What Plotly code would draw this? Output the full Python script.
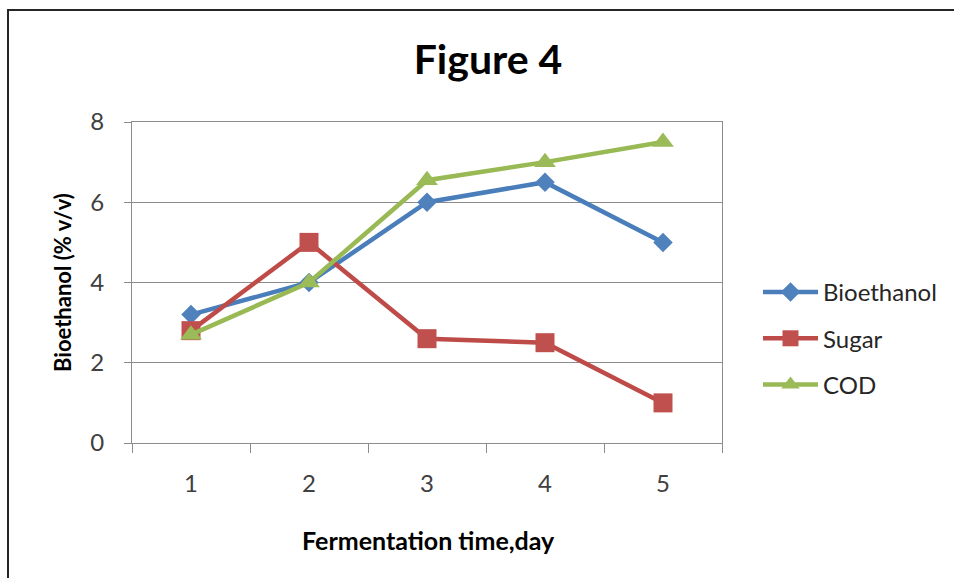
import plotly.graph_objects as go

days = ["1", "2", "3", "4", "5"]
bioethanol = [3.2, 4.0, 6.0, 6.5, 5.0]
sugar = [2.8, 5.0, 2.6, 2.5, 1.0]
cod = [2.7, 4.0, 6.55, 7.0, 7.5]

W, H = 954, 578
L, R, T, B = 132, 232, 122, 135
PW, PH = W - L - R, H - T - B

FONT = "Lato, 'Open Sans', sans-serif"

def px_x(p):
    return (p - L) / PW

def px_y(p):
    return (H - B - p) / PH

fig = go.Figure()
series = [
    ("Bioethanol", bioethanol, "#4A7EBB", "#4F81BD", "diamond", 15),
    ("Sugar", sugar, "#BE4B48", "#C0504D", "square", 19),
    ("COD", cod, "#98B954", "#9BBB59", "triangle-up", 19),
]
for name, vals, lc, mc, sym, sz in series:
    fig.add_trace(go.Scatter(
        x=days, y=vals, name=name, mode="lines+markers",
        legendgroup=name,
        line=dict(color=lc, width=4.5),
        marker=dict(symbol=sym, size=sz, color=mc, line=dict(width=0)),
    ))

fig.update_layout(
    width=W, height=H,
    margin=dict(l=L, r=R, t=T, b=B),
    paper_bgcolor="white", plot_bgcolor="white",
    font=dict(family=FONT, color="#262626"),
    title=dict(text="<b>Figure 4</b>", x=px_x(488), xref="paper", xanchor="center",
               y=1 - 60 / H, yanchor="middle", font=dict(size=41, color="black")),
    showlegend=True,
    legend=dict(x=px_x(758), xanchor="left", y=px_y(270), yanchor="top",
                font=dict(size=24, color="#262626"), itemwidth=55,
                tracegroupgap=12, bgcolor="rgba(0,0,0,0)"),
    xaxis=dict(
        type="category", range=[-0.5, 4.5],
        showline=True, linecolor="#8C8C8C", linewidth=1, mirror=True,
        ticks="outside", tickson="boundaries", ticklen=9, tickcolor="#8C8C8C",
        showgrid=False, zeroline=False,
        tickfont=dict(size=24, color="#404040"), ticklabelstandoff=19,
    ),
    yaxis=dict(
        range=[0, 8], dtick=2,
        showline=True, linecolor="#8C8C8C", linewidth=1, mirror=True,
        ticks="outside", ticklen=7, tickcolor="#8C8C8C",
        showgrid=True, gridcolor="#8C8C8C", gridwidth=1, zeroline=False,
        tickfont=dict(size=24, color="#404040"), ticklabelstandoff=15,
    ),
    annotations=[
        dict(text="<b>Fermentation time,day</b>", xref="paper", yref="paper",
             x=px_x(428), y=px_y(540), xanchor="center", yanchor="middle",
             showarrow=False, font=dict(size=25, color="black")),
        dict(text="<b>Bioethanol (% v/v)</b>", xref="paper", yref="paper",
             x=px_x(62), y=px_y(283), xanchor="center", yanchor="middle",
             textangle=-90, showarrow=False, font=dict(size=22, color="black")),
    ],
)

# chart frame (runs off the right and bottom edges)
fig.add_shape(type="rect", xref="paper", yref="paper",
              x0=px_x(8), y0=px_y(W), x1=px_x(W + 10), y1=px_y(10),
              line=dict(color="#262626", width=2), fillcolor="rgba(0,0,0,0)", layer="below")

fig.write_html("out.html")
